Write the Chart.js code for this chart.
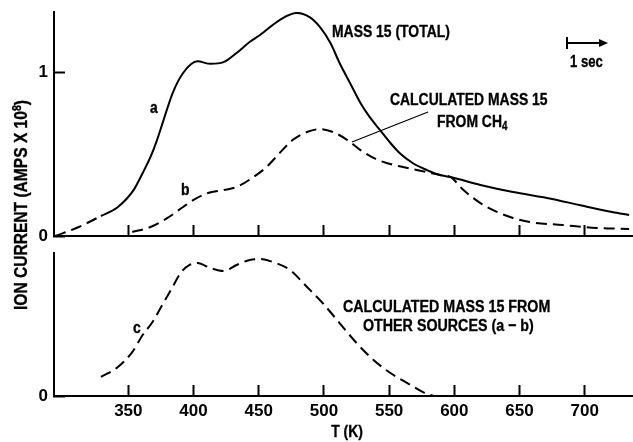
<!DOCTYPE html>
<html>
<head>
<meta charset="utf-8">
<title>Mass 15 ion current vs temperature</title>
<script src="https://cdn.jsdelivr.net/npm/chart.js@4.4.1/dist/chart.umd.min.js"></script>
<style>
  html, body { margin: 0; padding: 0; background: #fff; }
  #wrap { position: relative; width: 633px; height: 442px; overflow: hidden; }
  #wrap canvas { position: absolute; left: 0; }
  #topChart { top: 0; }
  #bottomChart { top: 246px; }
  #notes { position: absolute; left: 0; top: 0; pointer-events: none; }
  /* Liberation Sans squeezed to 82% gives a condensed bold face */
  #notes text { font-family: 'Liberation Sans', Arial, sans-serif; font-weight: bold; fill: #000; stroke: #000; stroke-width: 0.35px; }
</style>
</head>
<body>
<div id="wrap">
  <canvas id="topChart" width="633" height="250"></canvas>
  <canvas id="bottomChart" width="633" height="196"></canvas>
  <svg id="notes" width="633" height="442" viewBox="0 0 633 442">
    <text transform="translate(332,37) scale(0.82,1)" font-size="17">MASS 15 (TOTAL)</text>
    <line x1="567" y1="37" x2="567" y2="49" stroke="#000" stroke-width="2"/>
    <line x1="567" y1="43" x2="601" y2="43" stroke="#000" stroke-width="2"/>
    <polygon points="608,43 599,39 599,47" fill="#000"/>
    <text transform="translate(570,67) scale(0.82,1)" font-size="16">1 sec</text>
    <text transform="translate(390,105) scale(0.82,1)" font-size="17">CALCULATED MASS 15</text>
    <text transform="translate(437,127) scale(0.82,1)" font-size="17">FROM CH<tspan font-size="12" dy="3">4</tspan></text>
    <line x1="428" y1="112" x2="352" y2="142" stroke="#000" stroke-width="1.3"/>
    <text transform="translate(150,113) scale(0.82,1)" font-size="17">a</text>
    <text transform="translate(181,195) scale(0.82,1)" font-size="17">b</text>
    <text transform="translate(133,333) scale(0.82,1)" font-size="17">c</text>
    <text transform="translate(343,312) scale(0.82,1)" font-size="17.4">CALCULATED MASS 15 FROM</text>
    <text transform="translate(363,331) scale(0.82,1)" font-size="17.4">OTHER SOURCES (a − b)</text>
    <text transform="translate(347,437) scale(0.82,1)" text-anchor="middle" font-size="17">T (K)</text>
    <text transform="translate(27,205) rotate(-90) scale(0.82,1)" text-anchor="middle" font-size="19">ION CURRENT (AMPS X 10<tspan dy="-6" font-size="13">8</tspan><tspan dy="6">)</tspan></text>
  </svg>
</div>
<script>
// temperature (K) and ion current (amps x 1e8)
const aTemp = [294, 312, 329, 342, 354, 361, 367, 372, 377, 384, 392, 403, 413, 423, 433, 443, 451, 466, 479, 489, 497, 505, 512, 520, 528, 535, 543, 551, 558, 568, 579, 589, 597, 620, 645, 671, 696, 721, 734];
const aCurrent = [0, 0.055, 0.122, 0.177, 0.28, 0.384, 0.482, 0.585, 0.707, 0.872, 0.994, 1.065, 1.05, 1.06, 1.116, 1.183, 1.226, 1.317, 1.36, 1.335, 1.274, 1.177, 1.055, 0.933, 0.811, 0.726, 0.646, 0.567, 0.506, 0.445, 0.402, 0.372, 0.36, 0.311, 0.268, 0.232, 0.189, 0.146, 0.128];

const bTemp = [353, 367, 380, 392, 400, 411, 423, 433, 446, 456, 466, 476, 487, 497, 507, 518, 528, 538, 548, 564, 579, 589, 597, 607, 620, 633, 645, 658, 683, 709, 734];
const bCurrent = [0.024, 0.055, 0.11, 0.177, 0.22, 0.262, 0.28, 0.299, 0.36, 0.421, 0.506, 0.585, 0.634, 0.652, 0.634, 0.585, 0.524, 0.476, 0.445, 0.415, 0.39, 0.372, 0.36, 0.28, 0.201, 0.146, 0.11, 0.085, 0.067, 0.049, 0.043];

const cTemp = [329, 342, 353, 361, 368, 376, 384, 390, 397, 403, 413, 423, 433, 443, 451, 461, 474, 487, 499, 512, 525, 538, 551, 564, 576, 584];
const cCurrent = [0.116, 0.177, 0.268, 0.372, 0.445, 0.555, 0.665, 0.75, 0.799, 0.811, 0.78, 0.762, 0.799, 0.829, 0.835, 0.817, 0.768, 0.665, 0.567, 0.445, 0.323, 0.22, 0.14, 0.079, 0.024, 0];

const xTicks = [350, 400, 450, 500, 550, 600, 650, 700];
const topYTicks = [0, 1];
const bottomYTicks = [0];

// curve a is only estimated below this temperature (drawn dashed)
const aDashedUntil = 329;

const xMin = 293, xMax = 737;
const topYMax = 1.366, bottomYMax = 0.872;

Chart.defaults.font.family = "'Liberation Sans', Arial, sans-serif";
Chart.defaults.font.weight = 'bold';
Chart.defaults.font.size = 17;
Chart.defaults.color = '#000';

const dash = [11, 6];
const toPoints = (xs, ys) => xs.map((x, i) => ({ x, y: ys[i] }));
const setTicks = values => scale => { scale.ticks = values.map(v => ({ value: v })); };

function fixSize(prop, size) {
  return scale => {
    scale[prop] = size;
    scale.paddingLeft = scale.paddingRight = scale.paddingTop = scale.paddingBottom = 0;
  };
}

// inward tick marks
const tickGrid = { drawOnChartArea: false, drawTicks: true, tickLength: -11, tickWidth: 2, tickColor: '#000' };
const axisBorder = { display: true, color: '#000', width: 2 };

function lineSet(points, extra) {
  return Object.assign({
    data: points,
    borderColor: '#000',
    borderWidth: 2,
    pointRadius: 0,
    fill: false,
    cubicInterpolationMode: 'monotone',
  }, extra);
}

const common = {
  responsive: false,
  animation: false,
  parsing: false,
  plugins: { legend: { display: false }, tooltip: { enabled: false } },
};

// Top panel: total mass 15 (a) and CH4 contribution (b)
new Chart(document.getElementById('topChart'), {
  type: 'line',
  data: {
    datasets: [
      lineSet(toPoints(aTemp, aCurrent), {
        borderDash: [],
        segment: { borderDash: ctx => ctx.p1.parsed.x <= aDashedUntil ? dash : undefined },
      }),
      lineSet(toPoints(bTemp, bCurrent), { borderDash: dash }),
    ],
  },
  options: Object.assign({}, common, {
    layout: { padding: { top: 12, left: 0, right: 0, bottom: 0 } },
    scales: {
      x: {
        type: 'linear', min: xMin, max: xMax,
        afterBuildTicks: setTicks(xTicks),
        afterFit: fixSize('height', 14),
        grid: tickGrid, border: axisBorder,
        ticks: { display: false },
      },
      y: {
        min: 0, max: topYMax,
        afterBuildTicks: setTicks(topYTicks),
        afterFit: fixSize('width', 54),
        grid: tickGrid, border: axisBorder,
        ticks: { padding: 17 },
      },
    },
  }),
});

// Bottom panel: other sources (a - b)
new Chart(document.getElementById('bottomChart'), {
  type: 'line',
  data: {
    datasets: [lineSet(toPoints(cTemp, cCurrent), { borderDash: dash })],
  },
  options: Object.assign({}, common, {
    layout: { padding: { top: 7, left: 0, right: 0, bottom: 0 } },
    scales: {
      x: {
        type: 'linear', min: xMin, max: xMax,
        afterBuildTicks: setTicks(xTicks),
        afterFit: fixSize('height', 46),
        grid: tickGrid, border: axisBorder,
        ticks: { padding: 16 },
      },
      y: {
        min: 0, max: bottomYMax,
        afterBuildTicks: setTicks(bottomYTicks),
        afterFit: fixSize('width', 54),
        grid: tickGrid, border: axisBorder,
        ticks: { padding: 17 },
      },
    },
  }),
});
</script>
</body>
</html>
